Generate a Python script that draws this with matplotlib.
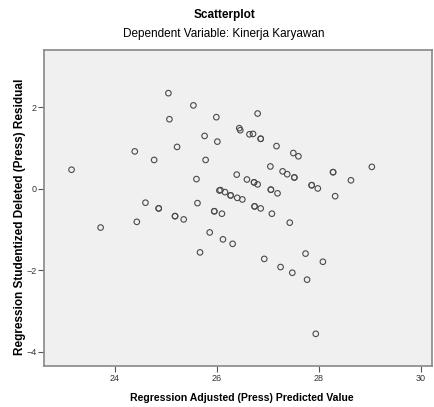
import matplotlib
matplotlib.use("Agg")
import matplotlib.pyplot as plt

plt.rcParams['font.family'] = ['Liberation Sans', 'DejaVu Sans']

# adjusted (press) predicted value
pred = [23.15, 23.72, 24.39, 24.43, 24.60, 24.77, 24.86, 24.86, 25.05, 25.07,
        25.18, 25.18, 25.22, 25.35, 25.54, 25.60, 25.62, 25.67, 25.76, 25.78,
        25.86, 25.95, 25.95, 25.99, 26.01, 26.05, 26.07, 26.10, 26.12, 26.16,
        26.27, 26.27, 26.31, 26.39, 26.40, 26.44, 26.46, 26.50, 26.59, 26.64,
        26.71, 26.73, 26.73, 26.74, 26.74, 26.80, 26.80, 26.86, 26.86, 26.86,
        26.93, 27.05, 27.06, 27.06, 27.08, 27.17, 27.19, 27.25, 27.29, 27.38,
        27.43, 27.48, 27.50, 27.52, 27.52, 27.60, 27.74, 27.77, 27.86, 27.86,
        27.94, 27.98, 28.08, 28.28, 28.28, 28.32, 28.63, 29.04]

# studentized deleted (press) residual
resid = [0.47, -0.95, 0.92, -0.81, -0.34, 0.71, -0.48, -0.48, 2.35, 1.71,
         -0.67, -0.67, 1.03, -0.75, 2.05, 0.24, -0.35, -1.56, 1.30, 0.71,
         -1.07, -0.55, -0.55, 1.76, 1.16, -0.04, -0.03, -0.61, -1.24, -0.08,
         -0.16, -0.16, -1.35, 0.35, -0.22, 1.49, 1.44, -0.26, 0.23, 1.34,
         1.35, 0.16, 0.16, -0.43, -0.43, 0.11, 1.85, 1.23, 1.23, -0.48,
         -1.72, 0.55, -0.02, -0.02, -0.61, 1.05, -0.11, -1.92, 0.43, 0.36,
         -0.83, -2.06, 0.88, 0.28, 0.28, 0.80, -1.59, -2.23, 0.09, 0.09,
         -3.56, 0.01, -1.79, 0.41, 0.41, -0.18, 0.21, 0.54]

xticks = [24, 26, 28, 30]
yticks = [-4, -2, 0, 2]

fig = plt.figure(figsize=(4.34, 4.07), dpi=100)
ax = fig.add_axes([44 / 434, 41 / 407, 388 / 434, 316 / 407])
ax.set_facecolor("#f0f0f0")

ax.scatter(pred, resid, s=16, facecolors="none", edgecolors="#4a4a4a", linewidths=0.8)

ax.set_xlim(22.61, 30.22)
ax.set_ylim(-4.35, 3.41)
ax.set_xticks(xticks)
ax.set_yticks(yticks)
ax.tick_params(direction="out", length=4, width=0.8, colors="#555555",
               labelsize=6.5, labelcolor="#333333", pad=1.5)

for side in ["top", "left", "bottom", "right"]:
    ax.spines[side].set_color("#888888")
    ax.spines[side].set_linewidth(1.2)

fig.text(242 / 434, 1 - 398 / 407, "Regression Adjusted (Press) Predicted Value",
         ha="center", va="center", fontsize=7.6, fontweight="bold")
fig.text(20 / 434, 1 - 217 / 407, "Regression Studentized Deleted (Press) Residual",
         ha="center", va="center", rotation=90, fontsize=8.5, fontweight="bold")

fig.text(225 / 434, 1 - 15 / 407, "Scatterplot", ha="center", va="center",
         fontsize=8.5, fontweight="bold")
fig.text(224 / 434, 1 - 34 / 407, "Dependent Variable: Kinerja Karyawan",
         ha="center", va="center", fontsize=8.5)

fig.savefig("out.png", dpi=100)
